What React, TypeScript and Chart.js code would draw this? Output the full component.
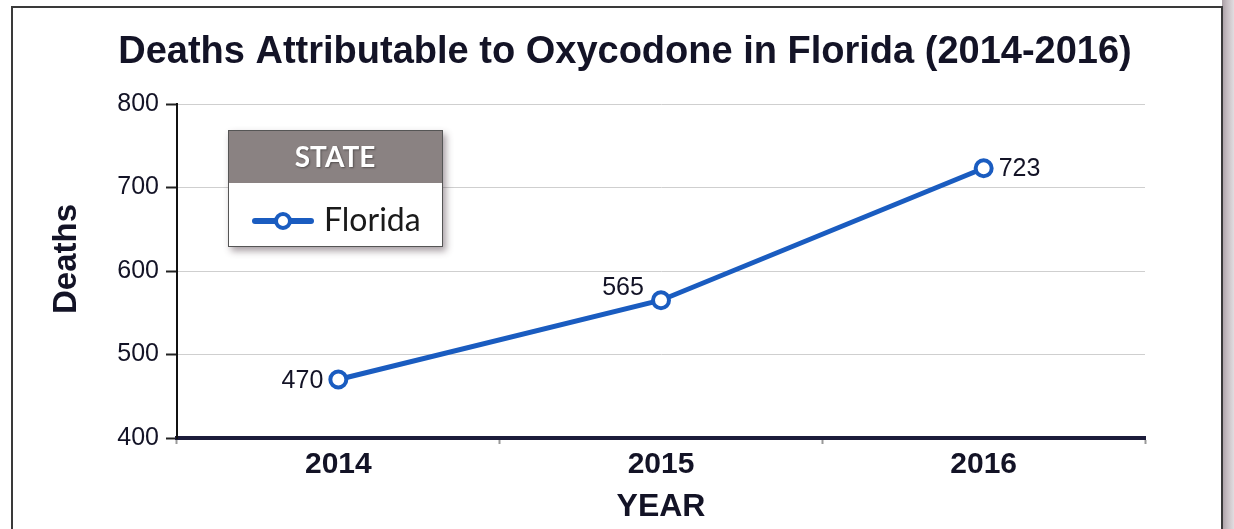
import React, { useEffect, useRef } from "react";
import { Chart, registerables } from "chart.js";

Chart.register(...registerables);

const categories = ["2014", "2015", "2016"];
const deaths = [470, 565, 723];
const yTicks = [400, 500, 600, 700, 800];
const seriesName = "Florida";
const legendTitle = "STATE";
const chartTitle = "Deaths Attributable to Oxycodone in Florida (2014-2016)";
const yTitle = "Deaths";
const xTitle = "YEAR";
const labelAnchors = ["left", "topleft", "right"];

const FONT = "'Liberation Sans', Arial, sans-serif";
const TEXT = "#131326";
const BLUE = "#1a5cc0";

const framePlugin = {
  id: "frame",
  beforeDraw(chart: any) {
    const ctx = chart.ctx;
    ctx.save();
    ctx.fillStyle = "#ffffff";
    ctx.fillRect(0, 0, chart.width, chart.height);
    const g = ctx.createLinearGradient(1222, 0, 1234, 0);
    g.addColorStop(0, "#a89ea4");
    g.addColorStop(0.4, "#c4bbc0");
    g.addColorStop(1, "#e2dde0");
    ctx.fillStyle = g;
    ctx.fillRect(1222, 0, 12, chart.height);
    ctx.strokeStyle = "#3a3a3a";
    ctx.lineWidth = 2;
    ctx.beginPath();
    ctx.moveTo(12, chart.height + 5);
    ctx.lineTo(12, 7);
    ctx.lineTo(1222, 7);
    ctx.lineTo(1222, chart.height + 5);
    ctx.stroke();
    ctx.restore();
  },
  afterDraw(chart: any) {
    const ctx = chart.ctx;
    ctx.save();
    ctx.fillStyle = TEXT;
    ctx.textAlign = "center";
    ctx.textBaseline = "middle";
    ctx.font = `bold 38px ${FONT}`;
    ctx.fillText(chartTitle, 625, 53);
    ctx.translate(67, 259);
    ctx.rotate(-Math.PI / 2);
    ctx.font = `bold 33px ${FONT}`;
    ctx.fillText(yTitle, 0, 0);
    ctx.restore();
  },
};

const valueLabelPlugin = {
  id: "valueLabels",
  afterDatasetsDraw(chart: any) {
    const ctx = chart.ctx;
    const meta = chart.getDatasetMeta(0);
    ctx.save();
    ctx.font = `25px ${FONT}`;
    ctx.fillStyle = TEXT;
    ctx.textBaseline = "middle";
    meta.data.forEach((pt: any, i: number) => {
      const v = String(chart.data.datasets[0].data[i]);
      const a = labelAnchors[i];
      if (a === "left") {
        ctx.textAlign = "right";
        ctx.fillText(v, pt.x - 15, pt.y + 2);
      } else if (a === "right") {
        ctx.textAlign = "left";
        ctx.fillText(v, pt.x + 15, pt.y + 1);
      } else {
        ctx.textAlign = "center";
        ctx.fillText(v, pt.x - 38, pt.y - 12);
      }
    });
    ctx.restore();
  },
};

const legendPlugin = {
  id: "stateLegend",
  afterDatasetsDraw(chart: any) {
    const ctx = chart.ctx;
    const x = 228, y = 130, w = 215, h = 117, hh = 53;
    ctx.save();
    ctx.shadowColor = "rgba(60,40,50,0.45)";
    ctx.shadowBlur = 7;
    ctx.shadowOffsetX = 3;
    ctx.shadowOffsetY = 4;
    ctx.fillStyle = "#ffffff";
    ctx.fillRect(x, y, w, h);
    ctx.restore();
    ctx.save();
    ctx.fillStyle = "#8a8282";
    ctx.fillRect(x, y, w, hh);
    ctx.strokeStyle = "#555";
    ctx.lineWidth = 1;
    ctx.strokeRect(x + 0.5, y + 0.5, w - 1, h - 1);
    ctx.shadowColor = "rgba(0,0,0,0.4)";
    ctx.shadowBlur = 2;
    ctx.shadowOffsetX = 1;
    ctx.shadowOffsetY = 1;
    ctx.fillStyle = "#ffffff";
    ctx.font = `bold 28px Lato, 'Open Sans', sans-serif`;
    ctx.textAlign = "center";
    ctx.textBaseline = "middle";
    ctx.fillText(legendTitle, 335, y + hh / 2 + 1);
    ctx.shadowColor = "transparent";
    ctx.shadowBlur = 0;
    ctx.shadowOffsetX = 0;
    ctx.shadowOffsetY = 0;
    const cy = 221;
    ctx.strokeStyle = BLUE;
    ctx.lineWidth = 6;
    ctx.lineCap = "round";
    ctx.beginPath();
    ctx.moveTo(255, cy);
    ctx.lineTo(311, cy);
    ctx.stroke();
    ctx.fillStyle = "#fff";
    ctx.lineWidth = 4;
    ctx.beginPath();
    ctx.arc(283, cy, 7, 0, Math.PI * 2);
    ctx.fill();
    ctx.stroke();
    ctx.fillStyle = "#1a1a1a";
    ctx.font = `32px Lato, 'Open Sans', sans-serif`;
    ctx.textAlign = "left";
    ctx.fillText(seriesName, 324, cy);
    ctx.restore();
  },
};

export default function App() {
  const ref = useRef<HTMLCanvasElement | null>(null);
  useEffect(() => {
    if (!ref.current) return;
    const chart = new Chart(ref.current, {
      type: "line",
      data: {
        labels: categories,
        datasets: [
          {
            label: seriesName,
            data: deaths,
            borderColor: BLUE,
            borderWidth: 5,
            pointRadius: 8,
            pointBorderWidth: 4,
            pointBackgroundColor: "#ffffff",
            pointBorderColor: BLUE,
            tension: 0,
          },
        ],
      },
      options: {
        responsive: false,
        animation: false,
        layout: { padding: { left: 0, right: 89, top: 104, bottom: 0 } },
        plugins: {
          legend: { display: false },
          tooltip: { enabled: false },
          title: { display: false },
        },
        scales: {
          x: {
            type: "category",
            offset: true,
            border: { display: true, color: "#1c1c3a", width: 4 },
            grid: {
              display: true,
              offset: true,
              drawOnChartArea: false,
              tickLength: 6,
              tickColor: "#999",
              tickWidth: 2,
            },
            ticks: {
              color: TEXT,
              font: { family: FONT, size: 30, weight: "bold" },
              padding: 3,
            },
            title: {
              display: true,
              text: xTitle,
              color: TEXT,
              font: { family: FONT, size: 32, weight: "bold" },
              padding: { top: 0, bottom: 3 },
            },
            afterFit(scale: any) {
              scale.height = 91;
            },
          },
          y: {
            min: 400,
            max: 800,
            afterBuildTicks(scale: any) {
              scale.ticks = yTicks.map((v) => ({ value: v }));
            },
            border: { display: true, color: "#111", width: 2 },
            grid: {
              color: "#cfcfcf",
              lineWidth: 1,
              tickLength: 11,
              tickColor: "#222",
              tickWidth: 2,
            },
            ticks: {
              color: TEXT,
              font: { family: FONT, size: 25 },
              padding: 7,
            },
            title: { display: false },
            afterFit(scale: any) {
              scale.width = 177;
            },
          },
        },
      },
      plugins: [framePlugin, valueLabelPlugin, legendPlugin],
    });
    return () => chart.destroy();
  }, []);
  return (
    <div style={{ position: "absolute", left: 0, top: 0, width: 1234, height: 529 }}>
      <canvas ref={ref} width={1234} height={529} style={{ width: 1234, height: 529, display: "block" }} />
    </div>
  );
}
